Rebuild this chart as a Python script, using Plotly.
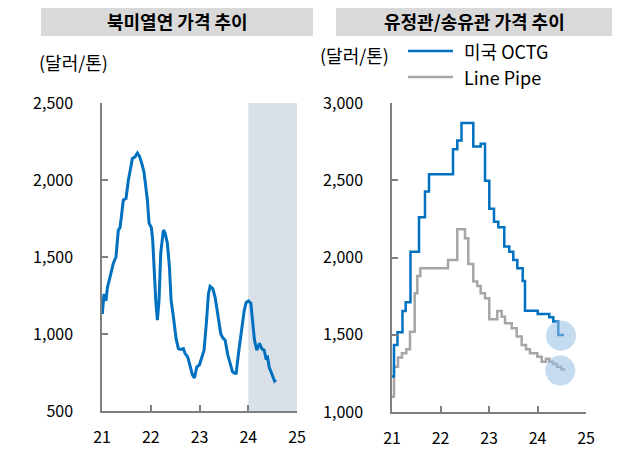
import plotly.graph_objects as go

# ---------------- data ----------------
# North American HRC price (USD/ton), x in years (21 = 2021)
hrc_year = [21.007, 21.041, 21.082, 21.11, 21.164, 21.233, 21.287, 21.335, 21.37, 21.438,
            21.493, 21.541, 21.589, 21.623, 21.678, 21.726, 21.767, 21.815, 21.862, 21.897,
            21.931, 21.965, 22.013, 22.04, 22.068, 22.102, 22.136, 22.17, 22.205, 22.259,
            22.294, 22.341, 22.383, 22.417, 22.465, 22.52, 22.567, 22.615, 22.67, 22.704,
            22.759, 22.807, 22.855, 22.896, 22.944, 22.999, 23.047, 23.094, 23.149, 23.183,
            23.218, 23.272, 23.32, 23.375, 23.437, 23.478, 23.526, 23.58, 23.628, 23.676,
            23.717, 23.752, 23.8, 23.868, 23.916, 23.957, 24.005, 24.053, 24.094, 24.128,
            24.176, 24.231, 24.279, 24.326, 24.361, 24.395, 24.429, 24.47, 24.505, 24.539,
            24.566]
hrc_price = [1130, 1260, 1215, 1300, 1370, 1460, 1500, 1675, 1690, 1870,
             1880, 2000, 2080, 2140, 2150, 2175, 2155, 2110, 2050, 1965,
             1870, 1720, 1690, 1610, 1395, 1220, 1090, 1220, 1525, 1675,
             1655, 1590, 1435, 1220, 1110, 970, 905, 900, 905, 875,
             850, 785, 735, 715, 785, 800, 845, 895, 1105, 1260,
             1310, 1295, 1240, 1135, 1000, 975, 960, 865, 810, 755,
             745, 745, 875, 1040, 1150, 1205, 1215, 1200, 1090, 960,
             895, 940, 905, 895, 845, 850, 785, 755, 720, 695,
             705]

# US OCTG price (USD/ton), step series
octg_year = [21.0, 21.041, 21.113, 21.216, 21.282, 21.381, 21.557, 21.68, 21.763, 22.258,
             22.346, 22.433, 22.676, 22.829, 22.918, 23.006, 23.103, 23.192, 23.315, 23.419,
             23.501, 23.584, 23.695, 23.742, 24.004, 24.243, 24.326, 24.429, 24.546]
octg_price = [1229, 1434, 1516, 1654, 1710, 2038, 2261, 2427, 2539, 2701,
              2757, 2870, 2718, 2736, 2496, 2315, 2232, 2196, 2071, 2038,
              1984, 1930, 1848, 1656, 1635, 1613, 1585, 1499, 1499]

# Line Pipe price (USD/ton), step series
pipe_year = [21.0, 21.041, 21.124, 21.206, 21.295, 21.371, 21.468, 21.522, 21.584, 22.155,
             22.346, 22.505, 22.573, 22.676, 22.759, 22.829, 22.918, 23.006, 23.171, 23.262,
             23.33, 23.468, 23.571, 23.674, 23.763, 23.845, 23.996, 24.087, 24.175, 24.243,
             24.32, 24.402, 24.485, 24.546]
pipe_price = [1099, 1293, 1352, 1380, 1406, 1520, 1769, 1881, 1931, 1984,
              2183, 2125, 1958, 1844, 1816, 1769, 1736, 1600, 1654, 1617,
              1574, 1542, 1488, 1434, 1406, 1380, 1358, 1326, 1345, 1326,
              1311, 1293, 1276, 1265]

# highlighted latest points
mark_year = [24.485, 24.47]
mark_price = [1494, 1268]

# shaded period on left chart
shade_start, shade_end = 24, 25

x_ticks = [21, 22, 23, 24, 25]
x_tick_labels = ["21", "22", "23", "24", "25"]
left_y_ticks = [500, 1000, 1500, 2000, 2500]
right_y_ticks = [1000, 1500, 2000, 2500, 3000]

left_title = "북미열연 가격 추이"
right_title = "유정관/송유관 가격 추이"
unit_label = "(달러/톤)"
series_names = ["미국 OCTG", "Line Pipe"]

# ---------------- styling ----------------
OFF = 8                      # page body margin of the html page
W, H = 622 - OFF, 451 - OFF
FONT = "Noto Sans CJK KR"
BLUE = "#0070C0"
GRAY = "#A6A6A6"
AXIS = "#7F7F7F"


def px(x):
    return (x - OFF) / W


def py(y):
    return 1 - (y - OFF) / H


fig = go.Figure()

fig.add_trace(go.Scatter(x=hrc_year, y=hrc_price, mode="lines", xaxis="x", yaxis="y",
                         line=dict(color=BLUE, width=3), showlegend=False))
fig.add_trace(go.Scatter(x=pipe_year, y=pipe_price, mode="lines", xaxis="x2", yaxis="y2",
                         line=dict(color=GRAY, width=2.5, shape="hv"), name=series_names[1],
                         showlegend=False))
fig.add_trace(go.Scatter(x=octg_year, y=octg_price, mode="lines", xaxis="x2", yaxis="y2",
                         line=dict(color=BLUE, width=2.5, shape="hv"), name=series_names[0],
                         showlegend=False))
fig.add_trace(go.Scatter(x=mark_year, y=mark_price, mode="markers", xaxis="x2", yaxis="y2",
                         marker=dict(size=30, color="rgba(150,190,228,0.55)", line=dict(width=0)),
                         showlegend=False, hoverinfo="skip"))

axis_common = dict(showgrid=False, zeroline=False, showline=True, linecolor=AXIS, linewidth=1.5,
                   ticks="inside", ticklen=6, tickcolor=AXIS, tickwidth=1.5, automargin=False,
                   tickfont=dict(family=FONT, size=16, color="#000000"))

fig.update_layout(
    width=W, height=H,
    margin=dict(l=0, r=0, t=0, b=0, pad=0, autoexpand=False),
    paper_bgcolor="white", plot_bgcolor="white",
    showlegend=False,
    xaxis=dict(domain=[px(102), px(297)], range=[21, 25], tickvals=x_ticks, ticktext=x_tick_labels,
               anchor="y", ticklabelstandoff=11, **axis_common),
    yaxis=dict(domain=[py(411), py(103)], range=[500, 2500], tickvals=left_y_ticks,
               tickformat=",", anchor="x", ticklabelstandoff=24, **axis_common),
    xaxis2=dict(domain=[px(392), px(586)], range=[21, 25], tickvals=x_ticks, ticktext=x_tick_labels,
                anchor="y2", ticklabelstandoff=11, **axis_common),
    yaxis2=dict(domain=[py(412), py(103)], range=[1000, 3000], tickvals=right_y_ticks,
                tickformat=",", anchor="x2", ticklabelstandoff=24, **axis_common),
)

shapes = [
    dict(type="rect", xref="x", yref="y", x0=shade_start, x1=shade_end, y0=500, y1=2500,
         fillcolor="#DAE0E8", line=dict(width=0), layer="below"),
    dict(type="rect", xref="paper", yref="paper", x0=px(41), x1=px(313), y0=py(36), y1=1,
         fillcolor="#D9D9D9", line=dict(width=0), layer="below"),
    dict(type="rect", xref="paper", yref="paper", x0=px(336), x1=px(612), y0=py(36), y1=1,
         fillcolor="#D9D9D9", line=dict(width=0), layer="below"),
    dict(type="line", xref="paper", yref="paper", x0=px(408), x1=px(453), y0=py(51), y1=py(51),
         line=dict(color=BLUE, width=2.5)),
    dict(type="line", xref="paper", yref="paper", x0=px(408), x1=px(453), y0=py(77), y1=py(77),
         line=dict(color=GRAY, width=2.5)),
]
fig.update_layout(shapes=shapes)

ann = [
    dict(text=f"<b>{left_title}</b>", x=px(177), y=py(21), xanchor="center", yanchor="middle",
         font=dict(family=FONT, size=18, color="#000000")),
    dict(text=f"<b>{right_title}</b>", x=px(474), y=py(21), xanchor="center", yanchor="middle",
         font=dict(family=FONT, size=18, color="#000000")),
    dict(text=unit_label, x=px(37), y=py(62), xanchor="left", yanchor="middle",
         font=dict(family=FONT, size=18, color="#000000")),
    dict(text=unit_label, x=px(318), y=py(55), xanchor="left", yanchor="middle",
         font=dict(family=FONT, size=18, color="#000000")),
    dict(text=series_names[0], x=px(462), y=py(51), xanchor="left", yanchor="middle",
         font=dict(family=FONT, size=18, color="#000000")),
    dict(text=series_names[1], x=px(462), y=py(77), xanchor="left", yanchor="middle",
         font=dict(family=FONT, size=18, color="#000000")),
]
for a in ann:
    a.update(xref="paper", yref="paper", showarrow=False)
fig.update_layout(annotations=ann)

fig.write_html("out.html")
